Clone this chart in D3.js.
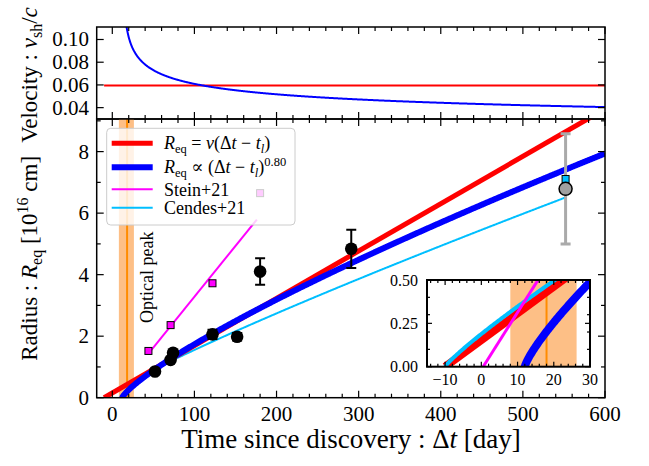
<!DOCTYPE html>
<html>
<head>
<meta charset="utf-8">
<script src="https://cdn.jsdelivr.net/npm/d3@7"></script>
<style>
  body { margin: 0; background: #fff; }
  svg { display: block; font-family: "Liberation Serif", "DejaVu Serif", serif; }
</style>
</head>
<body>
<div id="chart"></div>
<script>
// observed radii (black points)
const discT = [52, 71, 74, 122, 152, 180, 291];
const discR = [0.85, 1.23, 1.46, 2.06, 1.98, 4.10, 4.84];
const discErr = [0.05, 0.08, 0.08, 0.15, 0.12, 0.43, 0.62];

// Stein+21 squares
const steinT = [44, 71, 122, 180];
const steinR = [1.52, 2.36, 3.72, 6.65];
const steinFit = { t0: 0.5, slope: 0.033, tStart: 44, tEnd: 176 };

// late grey point and Cendes+21 square
const lateT = [552];
const lateR = [6.79];
const lateLo = [5.0];
const lateHi = [8.58];
const cendesPtR = [7.11];

// model parameters
const vConst = 0.0594;        // v_sh/c, constant velocity model
const tlConst = -10;          // t_l of constant model [day]
const powIdx = 0.80;          // R ~ (dt - tl)^0.80
const tlPow = 12;
const rPowAt600 = 7.94;
const vPowAt600 = 0.0405;
const vPowIdx = -0.215;
const cendesIdx = 0.879, cendesT0 = -10, cendesRAt550 = 6.49;

// optical peak
const peakT = 18, peakLo = 8, peakHi = 26.3;

const xTicks = [0, 100, 200, 300, 400, 500, 600];
const rTicks = [0, 2, 4, 6, 8];
const vTicks = [0.04, 0.06, 0.08, 0.10];
const insetXTicks = [-10, 0, 10, 20, 30];
const insetYTicks = [0, 0.25, 0.5];

const cDay = 0.2590; // c * 1 day in 1e16 cm

const W = 649, H = 466;
const svg = d3.select("#chart").append("svg").attr("width", W).attr("height", H);

const x = d3.scaleLinear().domain([-19, 600]).range([96.7, 605]);
const yV = d3.scaleLinear().domain([0.03, 0.111]).range([119, 27]);
const yR = d3.scaleLinear().domain([0, 9.06]).range([397.7, 119]);

// model functions
const rConst = (t) => vConst * cDay * (t - tlConst);
const rPow = (t) => t <= tlPow ? 0 : rPowAt600 * Math.pow((t - tlPow) / (600 - tlPow), powIdx);
const vPow = (t) => vPowAt600 * Math.pow((t - tlPow) / (600 - tlPow), vPowIdx);
const rCendes = (t) => t <= cendesT0 ? 0 : cendesRAt550 * Math.pow((t - cendesT0) / (550 - cendesT0), cendesIdx);
const rStein = (t) => steinFit.slope * (t - steinFit.t0);

const defs = svg.append("defs");
defs.append("clipPath").attr("id", "clipTop").append("rect")
  .attr("x", x.range()[0]).attr("y", yV.range()[1])
  .attr("width", x.range()[1] - x.range()[0]).attr("height", yV.range()[0] - yV.range()[1]);
defs.append("clipPath").attr("id", "clipMain").append("rect")
  .attr("x", x.range()[0]).attr("y", yR.range()[1])
  .attr("width", x.range()[1] - x.range()[0]).attr("height", yR.range()[0] - yR.range()[1]);

// ---------- top panel: velocity ----------
const gTop = svg.append("g");
const gTopData = gTop.append("g").attr("clip-path", "url(#clipTop)");

gTopData.append("path")
  .datum([-10, 600])
  .attr("fill", "none").attr("stroke", "#ff0000").attr("stroke-width", 2)
  .attr("d", d3.line().x((d) => x(d)).y(() => yV(vConst)));

const tVel = d3.range(tlPow + 3, 600.5, 0.5);
gTopData.append("path")
  .datum(tVel)
  .attr("fill", "none").attr("stroke", "#0000ff").attr("stroke-width", 2)
  .attr("d", d3.line().x((d) => x(d)).y((d) => yV(vPow(d))));

// ---------- main panel: radius ----------
const gMain = svg.append("g");
const gData = gMain.append("g").attr("clip-path", "url(#clipMain)");

gData.append("rect")
  .attr("x", x(peakLo)).attr("width", x(peakHi) - x(peakLo))
  .attr("y", yR.range()[1]).attr("height", yR.range()[0] - yR.range()[1])
  .attr("fill", "#fdbf86");
gData.append("line")
  .attr("x1", x(peakT)).attr("x2", x(peakT))
  .attr("y1", yR.range()[1]).attr("y2", yR.range()[0])
  .attr("stroke", "#ff8c00").attr("stroke-width", 2);

svg.append("text")
  .attr("transform", `translate(${x(peakT) + 26},${323}) rotate(-90)`)
  .attr("font-size", 18).attr("fill", "#000")
  .text("Optical peak");

const tGrid = d3.range(-12, 601, 1);
const tPowGrid = [tlPow].concat(d3.range(tlPow + 0.05, tlPow + 2, 0.05), d3.range(tlPow + 2, 601, 1));

gData.append("path")
  .datum(tGrid.filter((t) => t >= cendesT0 && t <= 552))
  .attr("fill", "none").attr("stroke", "#00bfff").attr("stroke-width", 2)
  .attr("d", d3.line().x((d) => x(d)).y((d) => yR(rCendes(d))));

gData.append("path")
  .datum([steinFit.tStart, steinFit.tEnd])
  .attr("fill", "none").attr("stroke", "#ff00ff").attr("stroke-width", 2)
  .attr("d", d3.line().x((d) => x(d)).y((d) => yR(rStein(d))));

gData.append("path")
  .datum([tlConst, 620])
  .attr("fill", "none").attr("stroke", "#ff0000").attr("stroke-width", 5)
  .attr("d", d3.line().x((d) => x(d)).y((d) => yR(rConst(d))));

gData.append("path")
  .datum(tPowGrid)
  .attr("fill", "none").attr("stroke", "#0000ff").attr("stroke-width", 6)
  .attr("d", d3.line().x((d) => x(d)).y((d) => yR(rPow(d))));

// Stein squares
const sq = 7;
gData.selectAll("rect.stein")
  .data(steinT.map((t, i) => ({ t, r: steinR[i] })))
  .join("rect").attr("class", "stein")
  .attr("x", (d) => x(d.t) - sq / 2).attr("y", (d) => yR(d.r) - sq / 2)
  .attr("width", sq).attr("height", sq)
  .attr("fill", "#ff00ff").attr("stroke", "#000").attr("stroke-width", 1);

// black points with error bars
const obs = discT.map((t, i) => ({ t, r: discR[i], e: discErr[i] }));
const gErr = gData.append("g").attr("stroke", "#000").attr("stroke-width", 2);
obs.forEach((d) => {
  gErr.append("line").attr("x1", x(d.t)).attr("x2", x(d.t))
    .attr("y1", yR(d.r - d.e)).attr("y2", yR(d.r + d.e));
  [d.r - d.e, d.r + d.e].forEach((v) => {
    gErr.append("line").attr("x1", x(d.t) - 5).attr("x2", x(d.t) + 5)
      .attr("y1", yR(v)).attr("y2", yR(v));
  });
});
gData.selectAll("circle.obs")
  .data(obs).join("circle").attr("class", "obs")
  .attr("cx", (d) => x(d.t)).attr("cy", (d) => yR(d.r)).attr("r", 6.3)
  .attr("fill", "#000");

// late grey point
const gLate = gData.append("g").attr("stroke", "#aaaaaa").attr("stroke-width", 3);
lateT.forEach((t, i) => {
  gLate.append("line").attr("x1", x(t)).attr("x2", x(t))
    .attr("y1", yR(lateLo[i])).attr("y2", yR(lateHi[i]));
  [lateLo[i], lateHi[i]].forEach((v) => {
    gLate.append("line").attr("x1", x(t) - 5).attr("x2", x(t) + 5)
      .attr("y1", yR(v)).attr("y2", yR(v));
  });
  gData.append("rect")
    .attr("x", x(t) - sq / 2).attr("y", yR(cendesPtR[i]) - sq / 2)
    .attr("width", sq).attr("height", sq)
    .attr("fill", "#00bfff").attr("stroke", "#000").attr("stroke-width", 1);
  gData.append("circle")
    .attr("cx", x(t)).attr("cy", yR(lateR[i])).attr("r", 6.5)
    .attr("fill", "#a0a0a0").attr("stroke", "#000").attr("stroke-width", 1.5);
});

// ---------- ticks and frames ----------
function frameTicks(g, xs, ys, opt) {
  const [x0, x1] = xs.range();
  const [y0, y1] = ys.range(); // y0 bottom, y1 top
  const tg = g.append("g").attr("stroke", "#000").attr("stroke-width", opt.tickW || 1.2);
  opt.xMajor.forEach((v) => {
    tg.append("line").attr("x1", xs(v)).attr("x2", xs(v)).attr("y1", y0).attr("y2", y0 - opt.maj);
    tg.append("line").attr("x1", xs(v)).attr("x2", xs(v)).attr("y1", y1).attr("y2", y1 + opt.maj);
  });
  opt.xMinor.forEach((v) => {
    tg.append("line").attr("x1", xs(v)).attr("x2", xs(v)).attr("y1", y0).attr("y2", y0 - opt.min);
    tg.append("line").attr("x1", xs(v)).attr("x2", xs(v)).attr("y1", y1).attr("y2", y1 + opt.min);
  });
  opt.yMajor.forEach((v) => {
    tg.append("line").attr("x1", x0).attr("x2", x0 + opt.maj).attr("y1", ys(v)).attr("y2", ys(v));
    tg.append("line").attr("x1", x1).attr("x2", x1 - opt.maj).attr("y1", ys(v)).attr("y2", ys(v));
  });
  opt.yMinor.forEach((v) => {
    tg.append("line").attr("x1", x0).attr("x2", x0 + opt.min).attr("y1", ys(v)).attr("y2", ys(v));
    tg.append("line").attr("x1", x1).attr("x2", x1 - opt.min).attr("y1", ys(v)).attr("y2", ys(v));
  });
  g.append("rect")
    .attr("x", x0).attr("y", y1).attr("width", x1 - x0).attr("height", y0 - y1)
    .attr("fill", "none").attr("stroke", "#000").attr("stroke-width", opt.frameW || 1.5);
}

const xMinor = d3.range(0, 601, 20).filter((v) => v % 100 !== 0);

frameTicks(gTop, x, yV, {
  xMajor: xTicks, xMinor, yMajor: vTicks, yMinor: [], maj: 7, min: 4
});
frameTicks(gMain, x, yR, {
  xMajor: xTicks, xMinor, yMajor: rTicks, yMinor: [1, 3, 5, 7, 9], maj: 7, min: 4
});

// tick labels
const fmtV = d3.format(".2f");
svg.append("g").attr("font-size", 21).attr("text-anchor", "end")
  .selectAll("text").data(vTicks).join("text")
  .attr("x", 89).attr("y", (d) => yV(d) + 7).text((d) => fmtV(d));
svg.append("g").attr("font-size", 21).attr("text-anchor", "end")
  .selectAll("text").data(rTicks).join("text")
  .attr("x", 89).attr("y", (d) => yR(d) + 7).text((d) => d);
svg.append("g").attr("font-size", 21).attr("text-anchor", "middle")
  .selectAll("text").data(xTicks).join("text")
  .attr("x", (d) => x(d)).attr("y", 421).text((d) => d);

// axis titles
const xt = svg.append("text").attr("x", 351).attr("y", 448)
  .attr("text-anchor", "middle").attr("font-size", 27);
xt.append("tspan").text("Time since discovery : Δ");
xt.append("tspan").attr("font-style", "italic").text("t");
xt.append("tspan").text(" [day]");

const yt = svg.append("text")
  .attr("transform", `translate(37,${(yR.range()[0] + yR.range()[1]) / 2}) rotate(-90)`)
  .attr("text-anchor", "middle").attr("font-size", 23);
yt.append("tspan").text("Radius : ");
yt.append("tspan").attr("font-style", "italic").text("R");
yt.append("tspan").attr("font-size", 16).attr("dy", 5).text("eq");
yt.append("tspan").attr("dy", -5).text(" [10");
yt.append("tspan").attr("font-size", 16).attr("dy", -9).text("16");
yt.append("tspan").attr("dy", 9).text(" cm]");

const vt = svg.append("text")
  .attr("transform", `translate(37,${(yV.range()[0] + yV.range()[1]) / 2 + 2}) rotate(-90)`)
  .attr("text-anchor", "middle").attr("font-size", 23);
vt.append("tspan").text("Velocity : ");
vt.append("tspan").attr("font-style", "italic").text("v");
vt.append("tspan").attr("font-size", 16).attr("dy", 5).text("sh");
vt.append("tspan").attr("dy", -5).text("/");
vt.append("tspan").attr("font-style", "italic").text("c");

// ---------- legend ----------
const lg = svg.append("g");
lg.append("rect").attr("x", 106.7).attr("y", 128.3).attr("width", 188.3).attr("height", 96.7)
  .attr("rx", 4).attr("fill", "#fff").attr("fill-opacity", 0.8)
  .attr("stroke", "#cccccc").attr("stroke-width", 1);
const legendItems = [
  { color: "#ff0000", w: 5, y: 143.3 },
  { color: "#0000ff", w: 6, y: 167.3 },
  { color: "#ff00ff", w: 2, y: 189.3 },
  { color: "#00bfff", w: 2, y: 207.7 }
];
legendItems.forEach((d) => {
  lg.append("line").attr("x1", 111.7).attr("x2", 152.7).attr("y1", d.y).attr("y2", d.y)
    .attr("stroke", d.color).attr("stroke-width", d.w);
});
const l1 = lg.append("text").attr("x", 164).attr("y", 149).attr("font-size", 18);
l1.append("tspan").attr("font-style", "italic").text("R");
l1.append("tspan").attr("font-size", 12.5).attr("dy", 4).text("eq");
l1.append("tspan").attr("dy", -4).text(" = ");
l1.append("tspan").attr("font-style", "italic").text("v");
l1.append("tspan").text("(Δ");
l1.append("tspan").attr("font-style", "italic").text("t");
l1.append("tspan").text(" − ");
l1.append("tspan").attr("font-style", "italic").text("t");
l1.append("tspan").attr("font-style", "italic").attr("font-size", 12.5).attr("dy", 4).text("l");
l1.append("tspan").attr("dy", -4).text(")");

const l2 = lg.append("text").attr("x", 164).attr("y", 173).attr("font-size", 18);
l2.append("tspan").attr("font-style", "italic").text("R");
l2.append("tspan").attr("font-size", 12.5).attr("dy", 4).text("eq");
l2.append("tspan").attr("dy", -4).text(" ∝ (Δ");
l2.append("tspan").attr("font-style", "italic").text("t");
l2.append("tspan").text(" − ");
l2.append("tspan").attr("font-style", "italic").text("t");
l2.append("tspan").attr("font-style", "italic").attr("font-size", 12.5).attr("dy", 4).text("l");
l2.append("tspan").attr("dy", -4).text(")");
l2.append("tspan").attr("font-size", 12.5).attr("dy", -7).text(powIdx.toFixed(2));

lg.append("text").attr("x", 164).attr("y", 195.5).attr("font-size", 18).text("Stein+21");
lg.append("text").attr("x", 164).attr("y", 214).attr("font-size", 18).text("Cendes+21");

// ---------- inset ----------
const xi = d3.scaleLinear().domain([-15, 30]).range([427, 590]);
const yi = d3.scaleLinear().domain([0, 0.5]).range([366.7, 280]);
defs.append("clipPath").attr("id", "clipInset").append("rect")
  .attr("x", 427).attr("y", 280).attr("width", 163).attr("height", 86.7);

const gIn = svg.append("g");
gIn.append("rect").attr("x", 427).attr("y", 280).attr("width", 163).attr("height", 86.7).attr("fill", "#fff");
const gInData = gIn.append("g").attr("clip-path", "url(#clipInset)");
gInData.append("rect").attr("x", xi(peakLo)).attr("width", xi(peakHi) - xi(peakLo))
  .attr("y", 280).attr("height", 86.7).attr("fill", "#fdbf86");
gInData.append("line").attr("x1", xi(peakT)).attr("x2", xi(peakT)).attr("y1", 280).attr("y2", 366.7)
  .attr("stroke", "#ff8c00").attr("stroke-width", 2);

const tIn = d3.range(-15, 31, 0.25);
gInData.append("path").datum([tlConst, 30])
  .attr("fill", "none").attr("stroke", "#ff0000").attr("stroke-width", 8)
  .attr("d", d3.line().x((d) => xi(d)).y((d) => yi(rConst(d))));
gInData.append("path").datum(tIn.filter((t) => t >= cendesT0))
  .attr("fill", "none").attr("stroke", "#00bfff").attr("stroke-width", 4)
  .attr("d", d3.line().x((d) => xi(d)).y((d) => yi(rCendes(d))));
gInData.append("path").datum([steinFit.t0, 30])
  .attr("fill", "none").attr("stroke", "#ff00ff").attr("stroke-width", 3)
  .attr("d", d3.line().x((d) => xi(d)).y((d) => yi(rStein(d))));
const tInPow = [tlPow].concat(d3.range(tlPow + 0.02, tlPow + 1, 0.02), d3.range(tlPow + 1, 31, 0.25));
gInData.append("path").datum(tInPow)
  .attr("fill", "none").attr("stroke", "#0000ff").attr("stroke-width", 8)
  .attr("d", d3.line().x((d) => xi(d)).y((d) => yi(rPow(d))));

frameTicks(gIn, xi, yi, {
  xMajor: insetXTicks, xMinor: d3.range(-14, 30, 2).filter((v) => v % 10 !== 0),
  yMajor: insetYTicks, yMinor: [0.1, 0.2, 0.3, 0.4], maj: 5, min: 3, frameW: 2
});

svg.append("g").attr("font-size", 16).attr("text-anchor", "middle")
  .selectAll("text").data(insetXTicks).join("text")
  .attr("x", (d) => xi(d)).attr("y", 385)
  .text((d) => (d < 0 ? "−" + Math.abs(d) : d));
svg.append("g").attr("font-size", 16).attr("text-anchor", "end")
  .selectAll("text").data(insetYTicks).join("text")
  .attr("x", 418).attr("y", (d) => yi(d) + 5.5).text((d) => fmtV(d));
</script>
</body>
</html>
